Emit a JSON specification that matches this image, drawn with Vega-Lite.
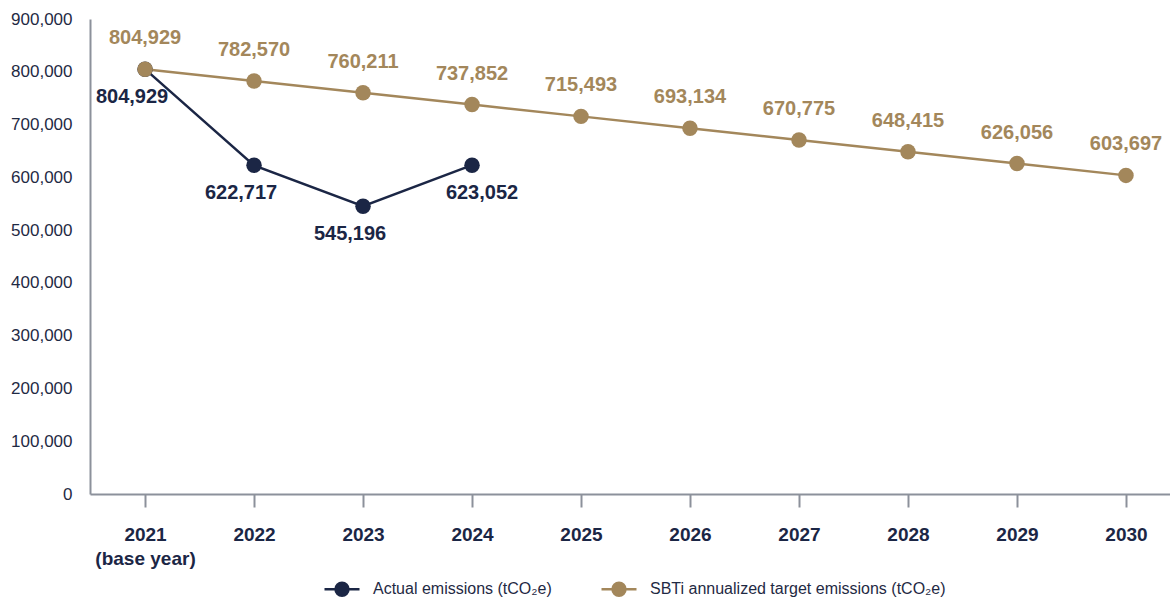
{
  "$schema": "https://vega.github.io/schema/vega-lite/v6.json",
  "width": 1080,
  "height": 475,
  "autosize": "none",
  "padding": {"left": 90, "top": 19, "right": 0, "bottom": 107},
  "background": "white",
  "config": {
    "view": {"stroke": null},
    "font": "Liberation Sans"
  },
  "data": {
    "values": [
      {"year": 2021, "series": "Actual emissions (tCO₂e)", "value": 804929},
      {"year": 2022, "series": "Actual emissions (tCO₂e)", "value": 622717},
      {"year": 2023, "series": "Actual emissions (tCO₂e)", "value": 545196},
      {"year": 2024, "series": "Actual emissions (tCO₂e)", "value": 623052},
      {"year": 2021, "series": "SBTi annualized target emissions (tCO₂e)", "value": 804929},
      {"year": 2022, "series": "SBTi annualized target emissions (tCO₂e)", "value": 782570},
      {"year": 2023, "series": "SBTi annualized target emissions (tCO₂e)", "value": 760211},
      {"year": 2024, "series": "SBTi annualized target emissions (tCO₂e)", "value": 737852},
      {"year": 2025, "series": "SBTi annualized target emissions (tCO₂e)", "value": 715493},
      {"year": 2026, "series": "SBTi annualized target emissions (tCO₂e)", "value": 693134},
      {"year": 2027, "series": "SBTi annualized target emissions (tCO₂e)", "value": 670775},
      {"year": 2028, "series": "SBTi annualized target emissions (tCO₂e)", "value": 648415},
      {"year": 2029, "series": "SBTi annualized target emissions (tCO₂e)", "value": 626056},
      {"year": 2030, "series": "SBTi annualized target emissions (tCO₂e)", "value": 603697}
    ]
  },
  "encoding": {
    "x": {
      "field": "year",
      "type": "quantitative",
      "scale": {"domain": [2020.495, 2030.404], "nice": false, "zero": false},
      "axis": {
        "title": null,
        "values": [2021, 2022, 2023, 2024, 2025, 2026, 2027, 2028, 2029, 2030],
        "labelExpr": "datum.value == 2021 ? ['2021', '(base year)'] : '' + datum.value",
        "grid": false,
        "domainColor": "#8c919b",
        "domainWidth": 2,
        "tickColor": "#8c919b",
        "tickWidth": 2,
        "tickSize": 13,
        "labelFontSize": 19,
        "labelFontWeight": "bold",
        "labelColor": "#1b2645",
        "labelPadding": 18,
        "labelLineHeight": 24,
        "labelFlush": false,
        "labelOverlap": false
      }
    },
    "y": {
      "field": "value",
      "type": "quantitative",
      "scale": {"domain": [0, 900000], "nice": false},
      "axis": {
        "title": null,
        "values": [0, 100000, 200000, 300000, 400000, 500000, 600000, 700000, 800000, 900000],
        "format": ",d",
        "grid": false,
        "ticks": false,
        "tickSize": 0,
        "domainColor": "#8c919b",
        "domainWidth": 2,
        "labelFontSize": 17,
        "labelColor": "#1f2a44",
        "labelPadding": 18,
        "labelOverlap": false
      }
    }
  },
  "layer": [
    {
      "mark": {"type": "line", "strokeWidth": 2.5},
      "encoding": {
        "color": {
          "field": "series",
          "type": "nominal",
          "scale": {
            "domain": ["Actual emissions (tCO₂e)", "SBTi annualized target emissions (tCO₂e)"],
            "range": ["#1b2645", "#a3875b"]
          },
          "legend": {
            "title": null,
            "orient": "none",
            "legendX": 233,
            "legendY": 551,
            "direction": "horizontal",
            "symbolType": "M-1,0H1M-0.37,0A0.37,0.37,0,1,1,0.37,0A0.37,0.37,0,1,1,-0.37,0Z",
            "symbolSize": 1225,
            "symbolStrokeWidth": 2.5,
            "labelFont": "Liberation Sans",
            "labelFontSize": 16,
            "labelColor": "#1f2a44",
            "labelOffset": 12,
            "columnPadding": 44,
            "labelLimit": 500
          }
        }
      }
    },
    {
      "mark": {"type": "point", "filled": true, "opacity": 1, "size": 240},
      "encoding": {
        "color": {"field": "series", "type": "nominal"}
      }
    },
    {
      "transform": [{"filter": "datum.series == 'SBTi annualized target emissions (tCO₂e)'"}],
      "mark": {"type": "text", "dy": -31, "fontSize": 20, "fontWeight": "bold", "color": "#a3875b"},
      "encoding": {"text": {"field": "value", "type": "quantitative", "format": ",d"}}
    },
    {
      "transform": [{"filter": "datum.series == 'Actual emissions (tCO₂e)' && datum.year <= 2023"}],
      "mark": {"type": "text", "dy": 28, "dx": -13, "fontSize": 20, "fontWeight": "bold", "color": "#1b2645"},
      "encoding": {"text": {"field": "value", "type": "quantitative", "format": ",d"}}
    },
    {
      "transform": [{"filter": "datum.series == 'Actual emissions (tCO₂e)' && datum.year == 2024"}],
      "mark": {"type": "text", "dy": 28, "dx": 10, "fontSize": 20, "fontWeight": "bold", "color": "#1b2645"},
      "encoding": {"text": {"field": "value", "type": "quantitative", "format": ",d"}}
    }
  ]
}
